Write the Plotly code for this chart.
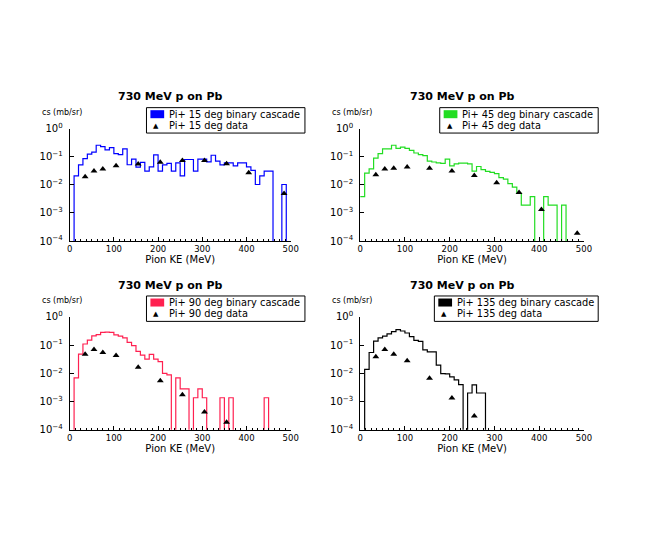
import numpy as np
import plotly.graph_objects as go

# 10 MeV bins from 0 to 500 MeV
bin_edges = np.arange(0, 510, 10)

# binary cascade prediction, cs (mb/sr) per bin
cascade_15 = [0, 0.021, 0.051, 0.086, 0.125, 0.147, 0.257, 0.231, 0.177, 0.213,
              0.129, 0.119, 0.192, 0.052, 0.082, 0.043, 0.063, 0.031, 0.044, 0.116,
              0.031, 0.051, 0.058, 0.031, 0.061, 0.021, 0.080, 0.080, 0.031, 0.082,
              0.082, 0.066, 0.113, 0.070, 0.051, 0.061, 0.061, 0.047, 0.061, 0.061,
              0.044, 0.033, 0.0103, 0.021, 0.031, 0.031, 0, 0, 0.0103, 0]
cascade_45 = [0.0038, 0.026, 0.037, 0.089, 0.13, 0.19, 0.19, 0.257, 0.20, 0.22,
              0.20, 0.17, 0.136, 0.119, 0.11, 0.070, 0.065, 0.061, 0.058, 0.082,
              0.047, 0.056, 0.059, 0.059, 0.056, 0.031, 0.045, 0.035, 0.030, 0.028,
              0.025, 0.018, 0.016, 0.011, 0.0083, 0.0050, 0.0019, 0.0019, 0.0038, 0,
              0, 0.0038, 0.0019, 0.0019, 0, 0.0019, 0, 0, 0, 0]
cascade_90 = [0, 0.0069, 0.048, 0.11, 0.151, 0.213, 0.238, 0.286, 0.29, 0.286,
              0.231, 0.208, 0.182, 0.125, 0.096, 0.060, 0.044, 0.032, 0.047, 0.032,
              0.026, 0.0100, 0.0088, 0, 0.0069, 0.0028, 0.0028, 0, 0.00136, 0.0028,
              0.00136, 0, 0, 0, 0.00136, 0, 0.00136, 0, 0, 0,
              0, 0, 0, 0, 0.00136, 0, 0, 0, 0, 0]
cascade_135 = [0, 0.0138, 0.055, 0.14, 0.182, 0.208, 0.25, 0.30, 0.354, 0.318,
               0.27, 0.20, 0.147, 0.136, 0.068, 0.058, 0.058, 0.0195, 0.0097, 0.0095,
               0.0075, 0.0059, 0.0040, 0, 0.0020, 0.0039, 0.0020, 0.0020, 0, 0,
               0, 0, 0, 0, 0, 0, 0, 0, 0, 0,
               0, 0, 0, 0, 0, 0, 0, 0, 0, 0]

# measured points
data_ke_15 = [35, 55, 75, 105, 155, 205, 255, 305, 355, 405, 485]
data_15 = [0.0195, 0.0314, 0.0368, 0.048, 0.055, 0.064, 0.074, 0.074, 0.056, 0.0268, 0.0049]
data_ke_45 = [35, 55, 75, 105, 155, 205, 255, 305, 355, 405, 485]
data_45 = [0.0228, 0.0368, 0.0389, 0.0432, 0.0389, 0.0314, 0.0216, 0.0120, 0.0053, 0.00132, 0.000189]
data_ke_90 = [35, 55, 75, 105, 155, 205, 255, 305, 355]
data_90 = [0.048, 0.070, 0.055, 0.043, 0.0166, 0.0054, 0.00173, 0.00042, 0.000184]
data_ke_135 = [35, 55, 75, 105, 155, 205, 255]
data_135 = [0.0389, 0.070, 0.048, 0.0282, 0.0067, 0.00132, 0.000306]

angles = ['15', '45', '90', '135']
colors = ['#0000ff', '#22dd22', '#ff2050', '#000000']
cascades = [cascade_15, cascade_45, cascade_90, cascade_135]
data_ke = [data_ke_15, data_ke_45, data_ke_90, data_ke_135]
data_cs = [data_15, data_45, data_90, data_135]

y_tickvals = [1, 0.1, 0.01, 0.001, 0.0001]
y_ticktext = ['10<sup>0</sup>', '10<sup>\u22121</sup>', '10<sup>\u22122</sup>',
              '10<sup>\u22123</sup>', '10<sup>\u22124</sup>']

# the page adds an 8px body margin around the figure
PAGE_W, PAGE_H, BODY = 654, 545, 8
W, H = PAGE_W - 2 * BODY, PAGE_H - 2 * BODY
FONT = 'DejaVu Sans'

# plot areas in page pixels: left, right, top, bottom
panels = [(67.7, 292.6, 124.3, 239.3), (363.3, 591.0, 124.3, 239.3),
          (67.7, 292.6, 317.0, 432.3), (363.3, 591.0, 317.0, 432.3)]
# empty bins fall below the log range so the outline drops to the axis
FLOOR = 1e-6


def px(x):
    return (x - BODY) / W


def py(y):
    return 1 - (y - BODY) / H


fig = go.Figure()
layout = {}
annotations = []
shapes = []

for i, (angle, color) in enumerate(zip(angles, colors)):
    n = '' if i == 0 else str(i + 1)
    xa, ya = 'x' + n, 'y' + n
    left, right, top, bottom = panels[i]

    vals = [v if v > 0 else FLOOR for v in cascades[i]]
    fig.add_trace(go.Scatter(
        x=bin_edges, y=vals + [vals[-1]],
        mode='lines', line=dict(color=color, width=1.2, shape='hv'),
        showlegend=False, xaxis=xa, yaxis=ya, hoverinfo='skip'
    ))
    fig.add_trace(go.Scatter(
        x=data_ke[i], y=data_cs[i], mode='markers',
        marker=dict(symbol='triangle-up', size=6, color='black'),
        showlegend=False, xaxis=xa, yaxis=ya
    ))

    layout['xaxis' + n] = dict(
        domain=[px(left), px(right)], anchor=ya, range=[0, 500],
        showline=True, linecolor='black', linewidth=1, showgrid=False, zeroline=False,
        tickvals=[0, 100, 200, 300, 400, 500], ticks='inside', ticklen=4, tickcolor='black',
        minor=dict(dtick=12.5, ticks='inside', ticklen=2, tickcolor='black'),
        tickfont=dict(size=8.5, color='black'),
        title=dict(text='Pion KE (MeV)', font=dict(size=10, color='black'), standoff=2),
    )
    layout['yaxis' + n] = dict(
        domain=[py(bottom), py(top)], anchor=xa, type='log', range=[-4, 0],
        showline=True, linecolor='black', linewidth=1, showgrid=False, zeroline=False,
        tickvals=y_tickvals, ticktext=y_ticktext, ticks='inside', ticklen=4, tickcolor='black',
        ticklabelstandoff=4, tickfont=dict(size=10, color='black'),
    )

    # panel title and y-axis label
    annotations.append(dict(
        text='<b>730 MeV p on Pb</b>', x=px(left + (right - left) / 2 - 10),
        y=py(top - 32.6), xref='paper', yref='paper', showarrow=False,
        xanchor='center', yanchor='middle', font=dict(size=11, color='black')
    ))
    annotations.append(dict(
        text='cs (mb/sr)', x=px(left - 30.6), y=py(top - 16.8),
        xref='paper', yref='paper', showarrow=False,
        xanchor='left', yanchor='middle', font=dict(size=8, color='black')
    ))

    # boxed legend: histogram swatch and data triangle
    labels = [f'Pi+ {angle} deg binary cascade', f'Pi+ {angle} deg data']
    box_r = right + 14.5
    box_l = box_r - (25 + 5.45 * len(labels[0]))
    box_t = top - 21.5
    box_b = box_t + 26
    shapes.append(dict(type='rect', xref='paper', yref='paper',
                       x0=px(box_l), x1=px(box_r), y0=py(box_b), y1=py(box_t),
                       line=dict(color='black', width=1), fillcolor='white', layer='above'))
    shapes.append(dict(type='rect', xref='paper', yref='paper',
                       x0=px(box_l + 4), x1=px(box_l + 18), y0=py(box_t + 10.8), y1=py(box_t + 2.6),
                       line=dict(width=0), fillcolor=color, layer='above'))
    annotations.append(dict(
        text='\u25b2', x=px(box_l + 10), y=py(box_t + 18.3), xref='paper', yref='paper',
        showarrow=False, xanchor='center', yanchor='middle', font=dict(size=7, color='black')
    ))
    for k, label in enumerate(labels):
        annotations.append(dict(
            text=label, x=px(box_l + 20.5), y=py(box_t + 7 + 11.3 * k),
            xref='paper', yref='paper', showarrow=False,
            xanchor='left', yanchor='middle', font=dict(size=9.8, color='black')
        ))

fig.update_layout(
    width=W, height=H, margin=dict(l=0, r=0, t=0, b=0),
    paper_bgcolor='white', plot_bgcolor='white',
    font=dict(family=FONT, color='black'),
    showlegend=False, annotations=annotations, shapes=shapes, **layout
)

fig.write_html("out.html")
